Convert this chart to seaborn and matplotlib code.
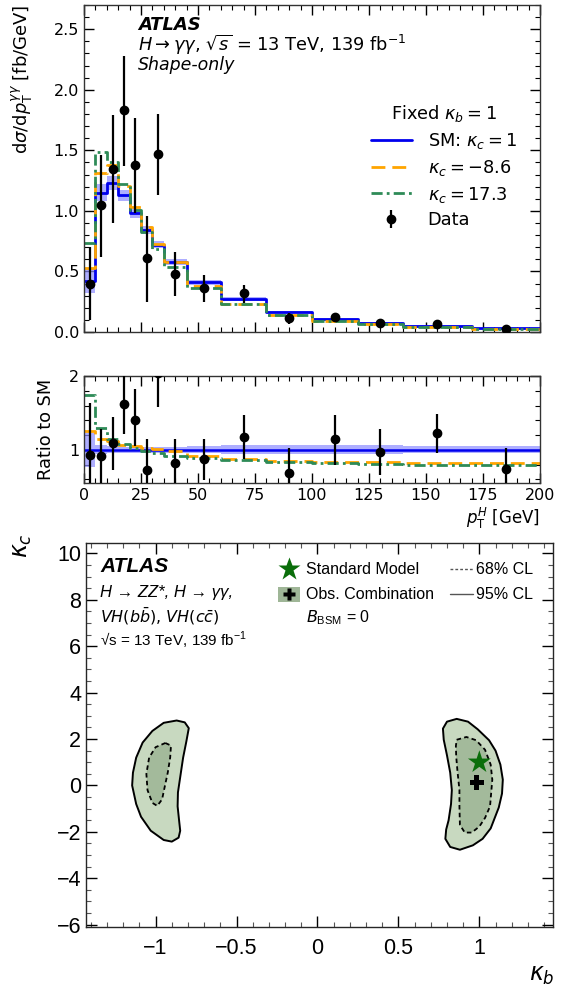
import numpy as np
import matplotlib
matplotlib.use("Agg")
import matplotlib.pyplot as plt
from matplotlib.ticker import MultipleLocator, NullFormatter, FuncFormatter
from matplotlib.lines import Line2D
from matplotlib.patches import Rectangle
import seaborn as sns

# ---- pT spectrum (H -> gamma gamma, shape-only) ----
bin_edges = [0, 5, 10, 15, 20, 25, 30, 35, 45, 60, 80, 100, 120, 140, 170, 200]
bin_centers = [2.5, 7.5, 12.5, 17.5, 22.5, 27.5, 32.5, 40, 52.5, 70, 90, 110, 130, 155, 185]

sm_xsec = [0.42, 1.15, 1.23, 1.13, 0.98, 0.84, 0.72, 0.58, 0.41, 0.27, 0.163, 0.107, 0.077, 0.052, 0.032]
sm_band_frac = [0.23, 0.06, 0.05, 0.04, 0.04, 0.04, 0.04, 0.04, 0.05, 0.06, 0.06, 0.06, 0.06, 0.05, 0.05]
ratio_kc_m86 = [1.25, 1.14, 1.12, 1.07, 1.05, 1.03, 1.01, 0.99, 0.92, 0.87, 0.85, 0.84, 0.83, 0.82, 0.82]
ratio_kc_173 = [1.74, 1.29, 1.14, 1.08, 1.03, 0.98, 0.95, 0.92, 0.89, 0.855, 0.84, 0.82, 0.81, 0.80, 0.79]

data_xsec = [0.40, 1.05, 1.35, 1.83, 1.38, 0.61, 1.47, 0.48, 0.36, 0.32, 0.115, 0.12, 0.072, 0.063, 0.023]
data_hi = [0.70, 1.46, 1.79, 2.28, 1.77, 0.96, 1.80, 0.66, 0.47, 0.39, 0.16, 0.15, 0.09, 0.075, 0.035]
data_lo = [0.10, 0.62, 0.90, 1.37, 0.98, 0.25, 1.13, 0.30, 0.245, 0.24, 0.065, 0.09, 0.055, 0.05, 0.012]

ratio_data = [0.93, 0.91, 1.09, 1.62, 1.41, 0.72, 2.04, 0.82, 0.87, 1.18, 0.69, 1.14, 0.97, 1.23, 0.74]
ratio_hi = [1.63, 1.28, 1.44, 2.25, 1.82, 1.14, 2.55, 1.14, 1.14, 1.47, 1.02, 1.47, 1.28, 1.49, 1.02]
ratio_lo = [0.24, 0.53, 0.72, 1.21, 1.05, 0.30, 1.58, 0.50, 0.59, 0.88, 0.36, 0.80, 0.66, 0.96, 0.40]

# ---- kappa_b / kappa_c likelihood contours ----
right95_kb = [0.80, 0.86, 0.93, 0.99, 1.06, 1.10, 1.13, 1.145, 1.14, 1.12, 1.07, 1.02, 0.96, 0.88,
              0.82, 0.79, 0.795, 0.81, 0.825, 0.83, 0.82, 0.80, 0.78, 0.775]
right95_kc = [2.75, 2.87, 2.75, 2.42, 1.95, 1.50, 0.90, 0.25, -0.35, -0.95, -1.85, -2.30, -2.58, -2.77,
              -2.65, -2.30, -1.90, -1.50, -0.80, -0.20, 0.55, 1.30, 1.97, 2.45]
right68_kb = [0.86, 0.92, 0.98, 1.035, 1.07, 1.08, 1.066, 1.035, 1.00, 0.953, 0.91, 0.88,
              0.877, 0.877, 0.865, 0.857, 0.855]
right68_kc = [1.97, 2.09, 1.95, 1.54, 0.90, 0.25, -0.90, -1.40, -1.77, -2.03, -2.03, -1.70,
              -0.90, -0.19, 0.60, 1.25, 1.70]
left95_kb = [-0.87, -0.82, -0.795, -0.81, -0.83, -0.845, -0.862, -0.864, -0.855, -0.848, -0.858,
             -0.90, -0.95, -1.03, -1.09, -1.12, -1.145, -1.14, -1.12, -1.08, -1.02, -0.95]
left95_kc = [2.80, 2.72, 2.47, 1.90, 1.20, 0.50, -0.30, -0.90, -1.50, -1.95, -2.25,
             -2.42, -2.35, -1.95, -1.35, -0.80, 0.00, 0.55, 1.20, 1.85, 2.35, 2.70]
left68_kb = [-0.94, -0.905, -0.91, -0.925, -0.945, -0.96, -0.99, -1.02, -1.05, -1.057, -1.04, -1.00]
left68_kc = [1.83, 1.72, 1.20, 0.55, -0.10, -0.60, -0.88, -0.75, -0.20, 0.50, 1.20, 1.65]
sm_point = (1.0, 1.0)
best_fit = (0.985, 0.13)

sns.set_theme(style="ticks")
plt.rcParams["font.family"] = ["DejaVu Sans"]
plt.rcParams["mathtext.fontset"] = "dejavusans"
plt.rcParams["axes.linewidth"] = 1.0
for key in ("text.color", "axes.labelcolor", "xtick.color", "ytick.color"):
    plt.rcParams[key] = "black"

W, H = 566, 989
fig = plt.figure(figsize=(W / 100, H / 100), dpi=100)


def frac_box(l, t, r, b):
    return [l / W, 1 - b / H, (r - l) / W, (b - t) / H]


ax1 = fig.add_axes(frac_box(84, 5, 540, 332))
ax2 = fig.add_axes(frac_box(84, 376, 540, 483))
ax3 = fig.add_axes(frac_box(86, 543, 553, 927))

edges = np.array(bin_edges, dtype=float)
sm = np.array(sm_xsec)
band = np.array(sm_band_frac)
orange_top = sm * np.array(ratio_kc_m86)
green_top = sm * np.array(ratio_kc_173)


def ext(v):
    v = np.asarray(v, dtype=float)
    return np.append(v, v[-1])


band_col = (0.55, 0.55, 1.0)
blue = "#0000ee"
orange = "#ffa500"
green = "#2e8b57"
dash_o = (0, (5, 2.5))
dash_g = (0, (4, 1.5, 1, 1.5))

# ---------------- top panel ----------------
ax1.fill_between(edges, ext(sm * (1 - band)), ext(sm * (1 + band)), step="post",
                 color=band_col, alpha=0.7, lw=0)
sns.lineplot(x=edges, y=ext(sm), drawstyle="steps-post", color=blue, lw=2, ax=ax1)
sns.lineplot(x=edges, y=ext(orange_top), drawstyle="steps-post", color=orange, lw=2,
             linestyle=dash_o, ax=ax1)
sns.lineplot(x=edges, y=ext(green_top), drawstyle="steps-post", color=green, lw=2,
             linestyle=dash_g, ax=ax1)
d = np.array(data_xsec)
errc = ax1.errorbar(bin_centers, d, yerr=[d - np.array(data_lo), np.array(data_hi) - d],
                    fmt="o", color="black", ms=6, elinewidth=1.6, capsize=0, zorder=5)

ax1.set_xlim(0, 200)
ax1.set_ylim(0, 2.7)
ax1.xaxis.set_major_locator(MultipleLocator(25))
ax1.xaxis.set_minor_locator(MultipleLocator(5))
ax1.xaxis.set_major_formatter(NullFormatter())
ax1.yaxis.set_major_locator(MultipleLocator(0.5))
ax1.yaxis.set_minor_locator(MultipleLocator(0.1))
ax1.set_ylabel(r"d$\sigma$/d$p_{\mathrm{T}}^{\gamma\gamma}$ [fb/GeV]", fontsize=13, loc="top")
ax1.yaxis.set_label_coords((35 - 84) / 456, 1.0)
ax1.set_xlabel("")

ax1.text(0.118, 0.939, "ATLAS", transform=ax1.transAxes, fontsize=13, fontweight="bold",
         style="italic", va="center")
ax1.text(0.118, 0.878, r"$H\rightarrow\gamma\gamma$, $\sqrt{s}$ = 13 TeV, 139 fb$^{-1}$",
         transform=ax1.transAxes, fontsize=12.8, va="center")
ax1.text(0.118, 0.818, "Shape-only", transform=ax1.transAxes, fontsize=12.5,
         style="italic", va="center")

handles = [Line2D([], [], color=blue, lw=2),
           Line2D([], [], color=orange, lw=2, linestyle=dash_o),
           Line2D([], [], color=green, lw=2, linestyle=dash_g),
           errc]
labels = [r"SM: $\kappa_c = 1$", r"$\kappa_c = -8.6$", r"$\kappa_c = 17.3$", "Data"]
ax1.legend(handles, labels, title=r"Fixed $\kappa_b = 1$", loc="upper right",
           bbox_to_anchor=(0.985, 0.748), frameon=False, fontsize=12.8,
           title_fontsize=12.8, handlelength=2.3, handletextpad=0.9, labelspacing=0.38)

# ---------------- ratio panel ----------------
ax2.fill_between(edges, ext(1 - band), ext(1 + band), step="post", color=band_col, alpha=0.7, lw=0)
sns.lineplot(x=edges, y=np.ones(len(edges)), drawstyle="steps-post", color=blue, lw=1.8, ax=ax2)
sns.lineplot(x=edges, y=ext(ratio_kc_m86), drawstyle="steps-post", color=orange, lw=2,
             linestyle=dash_o, ax=ax2)
sns.lineplot(x=edges, y=ext(ratio_kc_173), drawstyle="steps-post", color=green, lw=2,
             linestyle=dash_g, ax=ax2)
r = np.array(ratio_data)
ax2.errorbar(bin_centers, r, yerr=[r - np.array(ratio_lo), np.array(ratio_hi) - r],
             fmt="o", color="black", ms=6, elinewidth=1.6, capsize=0, zorder=5)
ax2.set_xlim(0, 200)
ax2.set_ylim(0.55, 2.0)
ax2.xaxis.set_major_locator(MultipleLocator(25))
ax2.xaxis.set_minor_locator(MultipleLocator(5))
ax2.yaxis.set_major_locator(MultipleLocator(1))
ax2.yaxis.set_minor_locator(MultipleLocator(0.2))
ax2.set_ylabel("Ratio to SM", fontsize=12.8)
ax2.yaxis.set_label_coords((55 - 84) / 456, 0.5)
ax2.set_xlabel(r"$p_{\mathrm{T}}^{H}$ [GeV]", fontsize=12, loc="right", labelpad=2)

for ax in (ax1, ax2):
    ax.tick_params(which="both", direction="in", top=True, right=True, labelsize=11.5)
    ax.tick_params(which="major", length=7, width=1)
    ax.tick_params(which="minor", length=3.5, width=0.8)
    for s in ax.spines.values():
        s.set_color("#333333")

# ---------------- kappa_b vs kappa_c panel ----------------
root_font = ["Liberation Sans", "DejaVu Sans"]
outer_col = "#c8d9c0"
inner_col = "#a3ba9b"

for kb, kc in ((left95_kb, left95_kc), (right95_kb, right95_kc)):
    ax3.fill(kb, kc, facecolor=outer_col, edgecolor="black", lw=1.4, joinstyle="round", zorder=2)
for kb, kc in ((left68_kb, left68_kc), (right68_kb, right68_kc)):
    ax3.fill(kb, kc, facecolor=inner_col, edgecolor="black", lw=1.3, linestyle=(0, (2.5, 1.8)),
             joinstyle="round", zorder=3)
sns.scatterplot(x=[sm_point[0]], y=[sm_point[1]], marker="*", s=300, color="#0a6e0a",
                edgecolor="none", ax=ax3, zorder=5)
sns.scatterplot(x=[best_fit[0]], y=[best_fit[1]], marker="P", s=110, color="black",
                edgecolor="none", ax=ax3, zorder=5)

ax3.set_xlim(-1.43, 1.455)
ax3.set_ylim(-6.1, 10.45)
ax3.xaxis.set_major_locator(MultipleLocator(0.5))
ax3.xaxis.set_minor_locator(MultipleLocator(0.1))
ax3.yaxis.set_major_locator(MultipleLocator(2))
ax3.yaxis.set_minor_locator(MultipleLocator(0.5))
fmt = FuncFormatter(lambda v, _: f"{v:g}".replace("-", "\u2212"))
ax3.xaxis.set_major_formatter(fmt)
ax3.yaxis.set_major_formatter(fmt)
ax3.tick_params(which="both", direction="in", top=True, right=True, labelsize=15.5)
ax3.tick_params(which="major", length=8, width=1)
ax3.tick_params(which="minor", length=3.5, width=0.8, color="#555555")
ax3.tick_params(axis="x", pad=8)
for lab in ax3.get_xticklabels() + ax3.get_yticklabels():
    lab.set_family(root_font)
ax3.set_xlabel("")
ax3.set_ylabel("")

fig.text(22 / W, 1 - 546 / H, r"$\kappa_c$", fontsize=17, rotation=90, ha="center", va="center")
fig.text(542 / W, 1 - 975 / H, r"$\kappa_b$", fontsize=17, ha="center", va="center")

t3 = ax3.transAxes
ax3.text(0.03, 0.94, "ATLAS", transform=t3, fontsize=15, fontweight="bold", style="italic",
         family=root_font, va="center")
ax3.text(0.03, 0.872, "H \u2192 ZZ*, H \u2192 \u03b3\u03b3,", transform=t3, fontsize=12,
         style="italic", family=root_font, va="center")
ax3.text(0.03, 0.808, r"$VH(b\bar{b})$, $VH(c\bar{c})$", transform=t3, fontsize=11.5, va="center")
ax3.text(0.03, 0.747, "\u221as = 13 TeV, 139 fb$^{\\mathregular{-1}}$", transform=t3, fontsize=11,
         family=root_font, va="center")

ax3.plot([0.4356], [0.9315], marker="*", ms=17, color="#0a6e0a", mec="none", transform=t3,
         clip_on=False)
ax3.text(0.471, 0.9315, "Standard Model", transform=t3, fontsize=11.5, family=root_font, va="center")
ax3.add_patch(Rectangle((0.4356 - 0.0236, 0.867 - 0.0195), 0.047, 0.039, transform=t3,
                        facecolor="#9fb697", edgecolor="none"))
ax3.plot([0.4356], [0.867], marker="P", ms=9, color="black", mec="none", transform=t3)
ax3.text(0.471, 0.867, "Obs. Combination", transform=t3, fontsize=11.5, family=root_font, va="center")
ax3.text(0.471, 0.805, r"$B_{\mathregular{BSM}}$ = 0", transform=t3, fontsize=11.5,
         family=root_font, va="center")

ax3.plot([0.78, 0.829], [0.9315, 0.9315], color="#555555", lw=1, linestyle=(0, (2, 1.5)),
         transform=t3)
ax3.text(0.836, 0.9315, "68% CL", transform=t3, fontsize=11.5, family=root_font, va="center")
ax3.plot([0.78, 0.829], [0.867, 0.867], color="#555555", lw=1, transform=t3)
ax3.text(0.836, 0.867, "95% CL", transform=t3, fontsize=11.5, family=root_font, va="center")

fig.savefig("out.png", dpi=100)
